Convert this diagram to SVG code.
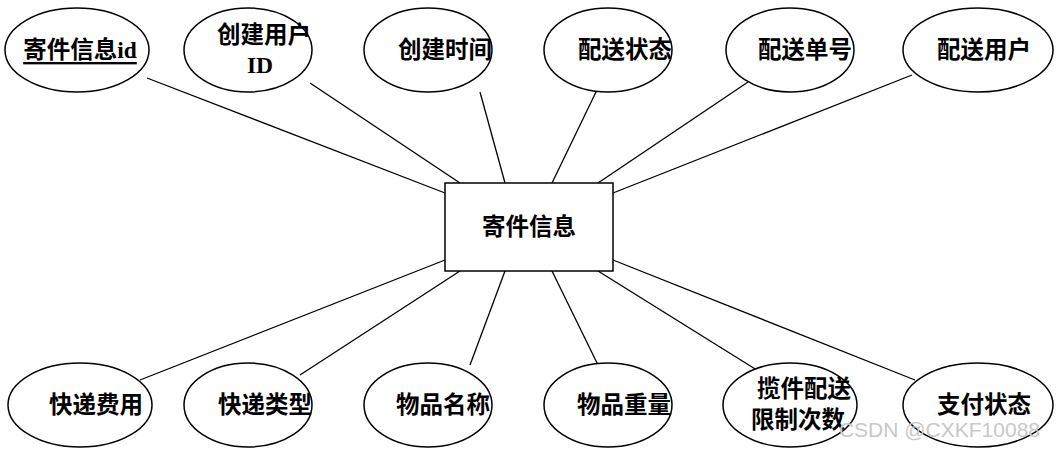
<svg xmlns="http://www.w3.org/2000/svg" width="1057" height="454" viewBox="0 0 1057 454">
<style>
.e{fill:#fff;stroke:#000;stroke-width:1.5}
.t{font-family:"Liberation Serif","Noto Sans CJK SC",serif;font-weight:bold;font-size:23.5px;text-anchor:middle;dominant-baseline:central}
.c line{stroke:#000;stroke-width:1.3}
</style>
<rect width="1057" height="454" fill="#fff"/>
<g class="c">
<line x1="147" y1="78" x2="445" y2="193"/>
<line x1="310" y1="83" x2="460" y2="183"/>
<line x1="480" y1="92" x2="505" y2="183"/>
<line x1="596" y1="92" x2="552" y2="183"/>
<line x1="748" y1="82" x2="598" y2="183"/>
<line x1="912" y1="75" x2="613" y2="193"/>
<line x1="140" y1="380" x2="445" y2="260"/>
<line x1="300" y1="375" x2="460" y2="271"/>
<line x1="470" y1="365" x2="505" y2="271"/>
<line x1="598" y1="365" x2="552" y2="271"/>
<line x1="760" y1="372" x2="598" y2="271"/>
<line x1="915" y1="380" x2="613" y2="260"/>
</g>
<g id="center"><rect x="445" y="183" width="168" height="88" fill="#fff" stroke="#000" stroke-width="1.5"/><text class="t" x="529" y="227">寄件信息</text></g>
<g id="n1"><ellipse class="e" cx="77" cy="50" rx="72" ry="42"/><text class="t" x="80" y="50" text-decoration="underline"> 寄件信息id</text></g>
<g id="n2"><ellipse class="e" cx="248" cy="50" rx="64" ry="42"/><text class="t" x="264" y="35">创建用户</text><text class="t" x="260" y="65">ID</text></g>
<g id="n3"><ellipse class="e" cx="428" cy="50" rx="64" ry="42"/><text class="t" x="445" y="50">创建时间</text></g>
<g id="n4"><ellipse class="e" cx="608" cy="50" rx="64" ry="42"/><text class="t" x="625" y="50">配送状态</text></g>
<g id="n5"><ellipse class="e" cx="790" cy="50" rx="64" ry="42"/><text class="t" x="805" y="50">配送单号</text></g>
<g id="n6"><ellipse class="e" cx="978" cy="50" rx="75" ry="42"/><text class="t" x="984" y="50">配送用户</text></g>
<g id="n7"><ellipse class="e" cx="80" cy="405" rx="72" ry="42"/><text class="t" x="96" y="405">快递费用</text></g>
<g id="n8"><ellipse class="e" cx="248" cy="405" rx="64" ry="42"/><text class="t" x="265" y="405">快递类型</text></g>
<g id="n9"><ellipse class="e" cx="428" cy="405" rx="64" ry="42"/><text class="t" x="443" y="405">物品名称</text></g>
<g id="n10"><ellipse class="e" cx="608" cy="405" rx="64" ry="42"/><text class="t" x="624" y="405">物品重量</text></g>
<g id="n11"><ellipse class="e" cx="790" cy="405" rx="67" ry="42"/><text class="t" x="804" y="389">揽件配送</text><text class="t" x="798" y="420">限制次数</text></g>
<g id="n12"><ellipse class="e" cx="978" cy="405" rx="75" ry="42"/><text class="t" x="984" y="405">支付状态</text></g>
<text x="1040" y="437" font-family="Liberation Sans,sans-serif" font-size="21" fill="#c8c8c8" text-anchor="end">CSDN @CXKF10088</text>
</svg>
